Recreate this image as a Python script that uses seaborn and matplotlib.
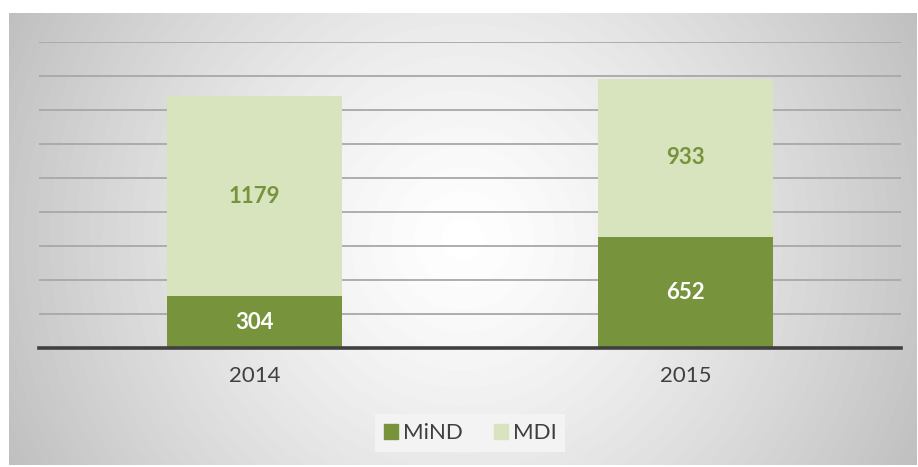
import matplotlib
matplotlib.use("Agg")
import matplotlib.pyplot as plt
import matplotlib.patches as mpatches
import numpy as np
import pandas as pd
import seaborn as sns

# Values
YEARS = ["2014", "2015"]
MIND = [304, 652]
MDI = [1179, 933]
SERIES = ["MiND", "MDI"]

DARK_GREEN = "#77933C"
LIGHT_GREEN = "#D7E4BD"
TEXT_GREY = "#404040"

W, H = 918, 467

sns.set_theme(style="white")
plt.rcParams["font.family"] = ["Lato", "DejaVu Sans"]

fig = plt.figure(figsize=(W / 100, H / 100), dpi=100)
fig.patch.set_facecolor("white")

# chart box with a radial grey gradient (white in the middle)
box_l, box_t, box_r, box_b = 9, 13, 917, 465
bg_ax = fig.add_axes(
    [box_l / W, 1 - box_b / H, (box_r - box_l) / W, (box_b - box_t) / H]
)
yy, xx = np.mgrid[0 : box_b - box_t, 0 : box_r - box_l]
cx, cy = (box_r - box_l) / 2, (box_b - box_t) / 2
dist = np.hypot(xx - cx, yy - cy) / np.hypot(cx, cy)
shade = 1.0 - 0.25 * dist**1.3
bg_ax.imshow(shade, cmap="gray", vmin=0, vmax=1, aspect="auto")
bg_ax.set_axis_off()

# plot area
plot_l, plot_r, plot_top, plot_base = 39, 901, 42, 348
ax = fig.add_axes(
    [plot_l / W, 1 - plot_base / H, (plot_r - plot_l) / W, (plot_base - plot_top) / H]
)
ax.patch.set_alpha(0)

totals = [m + d for m, d in zip(MIND, MDI)]
df = pd.DataFrame({"year": YEARS, "MiND": MIND, "MDI": MDI, "total": totals})

sns.barplot(data=df, x="year", y="total", color=LIGHT_GREEN, width=0.404,
            saturation=1, linewidth=0, ax=ax, zorder=2)
sns.barplot(data=df, x="year", y="MiND", color=DARK_GREEN, width=0.404,
            saturation=1, linewidth=0, ax=ax, zorder=3)

ax.set_xlim(-0.5, 1.5)
ax.set_ylim(0, 1800)
ax.set_yticks(np.arange(200, 1801, 200))
ax.set_yticklabels([])
ax.tick_params(axis="y", length=0)
ax.tick_params(axis="x", length=0, pad=13, labelsize=16, labelcolor=TEXT_GREY)
ax.yaxis.grid(True, color="#a8a8a8", linewidth=1.3, zorder=1)
ax.set_axisbelow(True)
ax.set_xlabel("")
ax.set_ylabel("")
for side in ["top", "right", "left"]:
    ax.spines[side].set_visible(False)
ax.spines["bottom"].set_color("#404040")
ax.spines["bottom"].set_linewidth(2.6)
ax.spines["bottom"].set_zorder(5)

# data labels
for i, (m, d) in enumerate(zip(MIND, MDI)):
    ax.text(i, m / 2, str(m), ha="center", va="center", color="white",
            fontsize=16, fontweight="bold", zorder=6)
    ax.text(i, m + d / 2, str(d), ha="center", va="center", color=DARK_GREEN,
            fontsize=16, fontweight="bold", zorder=6)

handles = [
    mpatches.Patch(color=DARK_GREEN, label=SERIES[0]),
    mpatches.Patch(color=LIGHT_GREEN, label=SERIES[1]),
]
leg = fig.legend(
    handles=handles,
    loc="center",
    bbox_to_anchor=(470 / W, 1 - 433 / H),
    ncol=2,
    fontsize=16,
    frameon=True,
    facecolor="#f3f3f3",
    edgecolor="none",
    fancybox=False,
    framealpha=1,
    handlelength=0.65,
    handleheight=0.65,
    handletextpad=0.2,
    columnspacing=1.4,
    borderpad=0.4,
)
for t in leg.get_texts():
    t.set_color(TEXT_GREY)

fig.savefig("out.png", dpi=100)
